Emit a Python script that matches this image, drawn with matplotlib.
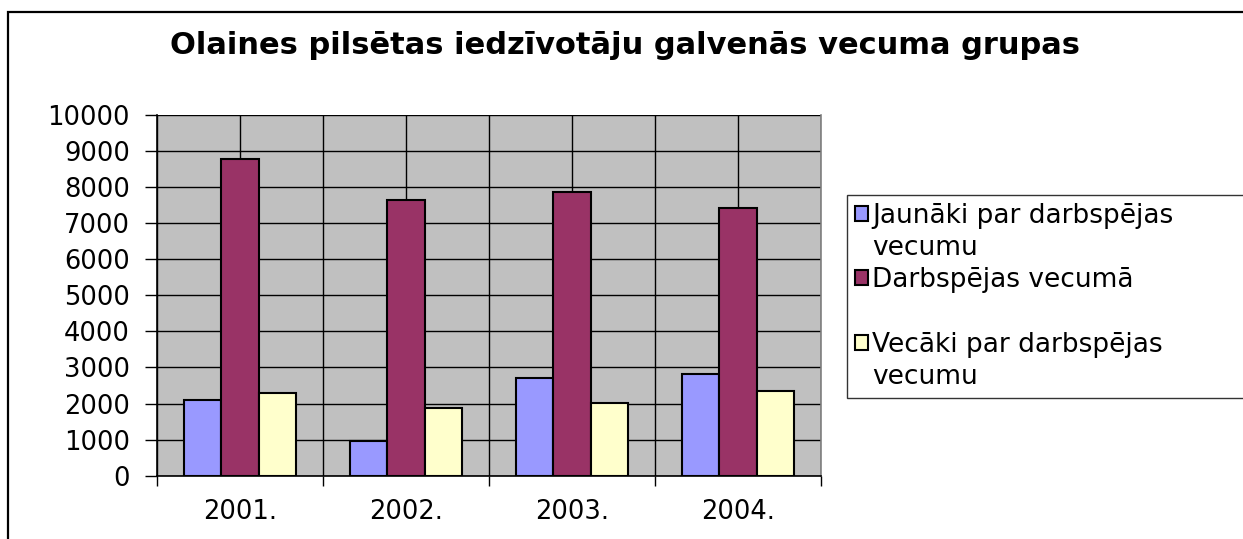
import numpy as np
import matplotlib
matplotlib.use('Agg')
import matplotlib.pyplot as plt
from matplotlib.patches import Patch, Rectangle

# Data
years = ['2001.', '2002.', '2003.', '2004.']
jaunaki = [2100, 960, 2710, 2830]        # below working age
darbspejas = [8770, 7640, 7860, 7410]    # working age
vecaki = [2280, 1880, 2010, 2360]        # above working age

series_labels = ['Jaunāki par darbspējas', 'Darbspējas vecumā', 'Vecāki par darbspējas']
colors = ['#9999FF', '#993366', '#FFFFCC']

plt.rcParams['font.family'] = ['DejaVu Sans']

W, H = 1243, 539
fig = plt.figure(figsize=(W / 100, H / 100), dpi=100)
fig.patch.set_facecolor('white')

# outer chart frame (cut off at right and bottom like the source)
fig.patches.append(Rectangle((8 / W, -0.05), 1.1, 1 - 12 / H + 0.05,
                             transform=fig.transFigure, fill=False,
                             edgecolor='black', linewidth=1.6, zorder=0))

ax = fig.add_axes([157 / W, 1 - 475.7 / H, (821 - 157) / W, (475.7 - 114.7) / H])
ax.set_facecolor('#C0C0C0')

x = np.arange(len(years))
bw = 0.223
bars = []
for k, vals in enumerate([jaunaki, darbspejas, vecaki]):
    b = ax.bar(x + (k - 1) * bw, vals, width=bw, color=colors[k],
               edgecolor='black', linewidth=1.5, zorder=3)
    bars.append(b)

ax.set_xlim(-0.5, len(years) - 0.5)
ax.set_ylim(0, 10000)
ax.set_yticks(np.arange(0, 10001, 1000))
ax.set_xticks(x)
ax.set_xticklabels(years)
ax.set_xticks(np.arange(-0.5, len(years), 1), minor=True)

ax.set_axisbelow(True)
ax.grid(axis='y', color='black', linewidth=1.0)
ax.grid(axis='x', which='both', color='black', linewidth=1.0)

ax.tick_params(axis='y', length=8.5, width=1.0, direction='out', labelsize=18.5, pad=11)
ax.tick_params(axis='x', which='major', length=0, labelsize=18.5, pad=17)
ax.tick_params(axis='x', which='minor', length=7, width=1.0, direction='out')

for s in ['left', 'bottom']:
    ax.spines[s].set_color('black')
    ax.spines[s].set_linewidth(1.2)
ax.spines['top'].set_visible(False)
ax.spines['right'].set_color('#808080')
ax.spines['right'].set_linewidth(1.2)

fig.text(625 / W, 1 - 45 / H, 'Olaines pilsētas iedzīvotāju galvenās vecuma grupas',
         ha='center', va='center', fontsize=22, fontweight='bold')

# legend, wrapped lines as extra entries without a marker
blank = Patch(facecolor='none', edgecolor='none')
handles = [bars[0], blank, bars[1], blank, bars[2], blank]
labels = [series_labels[0], 'vecumu', series_labels[1], '', series_labels[2], 'vecumu']
top = 1 - 195 / H
leg = fig.legend(handles, labels, loc='upper left',
                 bbox_to_anchor=(847 / W, top - 0.4, 0.4, 0.4), mode='expand',
                 bbox_transform=fig.transFigure, fontsize=19, frameon=True,
                 fancybox=False, edgecolor='black', borderpad=0.3,
                 handlelength=0.5, handleheight=0.5, handletextpad=0.15,
                 labelspacing=0.235, borderaxespad=0)
leg.get_frame().set_linewidth(1.0)

fig.savefig('out.png', dpi=100, facecolor='white')
